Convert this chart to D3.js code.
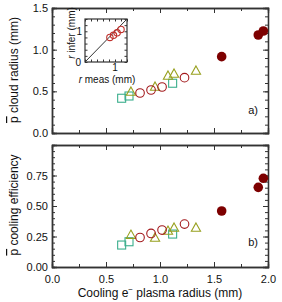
<!DOCTYPE html>
<html lang="en">
<head>
<meta charset="utf-8">
<script src="https://d3js.org/d3.v7.min.js"></script>
<style>
  body { margin: 0; background: #fff; }
  text { font-family: "Liberation Sans", Arial, sans-serif; fill: #111; }
  .ax path, .ax line { stroke: #333; }
</style>
</head>
<body>
<script>
// plasma radius (mm) and results, per data set
const squaresR   = [0.645, 0.713, 1.117];
const squaresCl  = [0.417, 0.444, 0.597];
const squaresEff = [0.18, 0.207, 0.27];

const trianglesR   = [0.731, 0.954, 1.074, 1.13, 1.333];
const trianglesCl  = [0.492, 0.552, 0.684, 0.708, 0.744];
const trianglesEff = [0.262, 0.238, 0.295, 0.32, 0.32];

const circlesR   = [0.815, 0.917, 1.019, 1.227];
const circlesCl  = [0.48, 0.516, 0.552, 0.664];
const circlesEff = [0.242, 0.275, 0.303, 0.352];

const filledR   = [1.571, 1.91, 1.957];
const filledCl  = [0.916, 1.176, 1.224];
const filledEff = [0.459, 0.653, 0.727];

// inset: measured vs inferred radius
const insetMeas  = [0.83, 0.95, 1.07, 1.2];
const insetInfer = [0.8, 0.87, 0.95, 1.06];

const xTickLabels = [0, 0.5, 1.0, 1.5, 2.0];
const topTickLabels = [0, 0.5, 1.0, 1.5];
const botTickLabels = [0, 0.25, 0.5, 0.75];

const TEAL = "#3aae8c", OLIVE = "#97a01e", RED = "#a3191c", MAROON = "#7d0000";

const width = 282, height = 302;
const svg = d3.select("body").append("svg")
    .attr("width", width)
    .attr("height", height);

const x = d3.scaleLinear().domain([0, 2]).range([52, 268]);
const yTop = d3.scaleLinear().domain([0, 1.5]).range([133, 8]);
const yBot = d3.scaleLinear().domain([0, 1]).range([267, 145]);

function frame(y, labels, majorStep, minorStep, digits, showX) {
    const g = svg.append("g").attr("class", "ax");
    const [y0, y1] = y.domain();
    const yMaj = d3.range(y0, y1 + 1e-9, majorStep);
    const yMin = d3.range(y0, y1 + 1e-9, minorStep);
    const xMaj = d3.range(0, 2.0001, 0.5);
    const xMin = d3.range(0, 2.0001, 0.25);
    // left labelled axis
    g.append("g").attr("transform", "translate(52,0)")
        .call(d3.axisLeft(y).tickValues(yMin).tickSize(-3).tickFormat(""));
    g.append("g").attr("transform", "translate(52,0)")
        .call(d3.axisLeft(y).tickValues(yMaj).tickSize(-5).tickFormat(""));
    g.append("g").attr("transform", "translate(52,0)")
        .call(d3.axisLeft(y).tickValues(labels).tickSize(0).tickPadding(4)
            .tickFormat(d => Number(d).toFixed(digits)))
        .call(a => a.selectAll("text").attr("font-size", 11));
    // right
    g.append("g").attr("transform", "translate(268,0)")
        .call(d3.axisRight(y).tickValues(yMin).tickSize(-3).tickFormat(""));
    g.append("g").attr("transform", "translate(268,0)")
        .call(d3.axisRight(y).tickValues(yMaj).tickSize(-5).tickFormat(""));
    // top
    const yt = y.range()[1], yb = y.range()[0];
    g.append("g").attr("transform", `translate(0,${yt})`)
        .call(d3.axisTop(x).tickValues(xMin).tickSize(-3).tickFormat(""));
    g.append("g").attr("transform", `translate(0,${yt})`)
        .call(d3.axisTop(x).tickValues(xMaj).tickSize(-5).tickFormat(""));
    // bottom
    g.append("g").attr("transform", `translate(0,${yb})`)
        .call(d3.axisBottom(x).tickValues(xMin).tickSize(-3).tickFormat(""));
    const bx = g.append("g").attr("transform", `translate(0,${yb})`)
        .call(d3.axisBottom(x).tickValues(showX ? xTickLabels : xMaj).tickSize(-5).tickPadding(8)
            .tickFormat(showX ? (d => Number(d).toFixed(1)) : ""));
    bx.selectAll("text").attr("font-size", 11);
    g.selectAll("path.domain").attr("stroke-width", 1.3);
    g.selectAll(".tick line").attr("stroke-width", 1);
}

frame(yTop, topTickLabels, 0.5, 0.1, 1, false);
frame(yBot, botTickLabels, 0.25, 0.05, 2, true);

function series(y, rs, vs, kind, color) {
    const pts = rs.map((r, i) => [x(r), y(vs[i])]);
    const g = svg.append("g");
    if (kind === "square") {
        g.selectAll("rect").data(pts).join("rect")
            .attr("x", d => d[0] - 4).attr("y", d => d[1] - 4)
            .attr("width", 8).attr("height", 8)
            .attr("fill", "none").attr("stroke", color).attr("stroke-width", 1.1);
    } else if (kind === "triangle") {
        g.selectAll("path").data(pts).join("path")
            .attr("d", d => `M${d[0]},${d[1] - 5}L${d[0] + 4.6},${d[1] + 3.3}L${d[0] - 4.6},${d[1] + 3.3}Z`)
            .attr("fill", "none").attr("stroke", color).attr("stroke-width", 1.1);
    } else if (kind === "open") {
        g.selectAll("circle").data(pts).join("circle")
            .attr("cx", d => d[0]).attr("cy", d => d[1]).attr("r", 4.3)
            .attr("fill", "none").attr("stroke", color).attr("stroke-width", 1.1);
    } else {
        g.selectAll("circle").data(pts).join("circle")
            .attr("cx", d => d[0]).attr("cy", d => d[1]).attr("r", 4.8)
            .attr("fill", color);
    }
}

series(yTop, squaresR, squaresCl, "square", TEAL);
series(yTop, trianglesR, trianglesCl, "triangle", OLIVE);
series(yTop, circlesR, circlesCl, "open", RED);
series(yTop, filledR, filledCl, "filled", MAROON);

series(yBot, squaresR, squaresEff, "square", TEAL);
series(yBot, trianglesR, trianglesEff, "triangle", OLIVE);
series(yBot, circlesR, circlesEff, "open", RED);
series(yBot, filledR, filledEff, "filled", MAROON);

// inset
const ix = d3.scaleLinear().domain([0, 1.4]).range([85, 127]);
const iy = d3.scaleLinear().domain([0, 1.4]).range([62, 19]);
const ins = svg.append("g").attr("class", "ax");
ins.append("rect").attr("x", 85).attr("y", 19).attr("width", 42).attr("height", 43)
    .attr("fill", "#fff").attr("stroke", "#333").attr("stroke-width", 1.2);
const iMin = d3.range(0, 1.41, 0.2);
ins.append("g").attr("transform", "translate(0,62)")
    .call(d3.axisBottom(ix).tickValues(iMin).tickSize(-2.5).tickFormat(""));
ins.append("g").attr("transform", "translate(0,19)")
    .call(d3.axisTop(ix).tickValues(iMin).tickSize(-2.5).tickFormat(""));
ins.append("g").attr("transform", "translate(85,0)")
    .call(d3.axisLeft(iy).tickValues(iMin).tickSize(-2.5).tickFormat(""));
ins.append("g").attr("transform", "translate(127,0)")
    .call(d3.axisRight(iy).tickValues(iMin).tickSize(-2.5).tickFormat(""));
ins.selectAll("path.domain").remove();
ins.append("line").attr("x1", ix(0)).attr("y1", iy(0)).attr("x2", ix(1.4)).attr("y2", iy(1.4))
    .attr("stroke", "#111").attr("stroke-width", 1);
ins.selectAll("circle.ip").data(insetMeas).join("circle").attr("class", "ip")
    .attr("cx", d => ix(d)).attr("cy", (d, i) => iy(insetInfer[i])).attr("r", 3.2)
    .attr("fill", "none").attr("stroke", "#c0302c").attr("stroke-width", 1.1);
ins.append("text").attr("x", ix(1)).attr("y", 71).attr("text-anchor", "middle")
    .attr("font-size", 10).text("1");
ins.append("text").attr("x", 82).attr("y", iy(1) + 3.5).attr("text-anchor", "end")
    .attr("font-size", 10).text("1");
ins.append("text").attr("x", 81).attr("y", 66).attr("text-anchor", "end")
    .attr("font-size", 10).text("0");
const xl = ins.append("text").attr("x", 107).attr("y", 83).attr("text-anchor", "middle")
    .attr("font-size", 10);
xl.append("tspan").attr("font-style", "italic").text("r");
xl.append("tspan").text(" meas (mm)");
const yl = ins.append("text").attr("transform", "translate(75,33) rotate(-90)")
    .attr("text-anchor", "middle").attr("font-size", 10);
yl.append("tspan").attr("font-style", "italic").text("r");
yl.append("tspan").text(" infer (mm)");

// axis labels
function pbarLabel(cx, cy, rest) {
    const t = svg.append("text").attr("transform", `translate(${cx},${cy}) rotate(-90)`)
        .attr("text-anchor", "middle").attr("font-size", 12);
    t.append("tspan").attr("text-decoration", "overline").text("p");
    t.append("tspan").text(rest);
}
pbarLabel(18, 70, " cloud radius (mm)");
pbarLabel(18, 205, " cooling efficiency");

const xlab = svg.append("text").attr("x", 160).attr("y", 297)
    .attr("text-anchor", "middle").attr("font-size", 12);
xlab.append("tspan").text("Cooling e");
xlab.append("tspan").attr("dy", -5).attr("font-size", 8).text("\u2212");
xlab.append("tspan").attr("dy", 5).text(" plasma radius (mm)");

svg.append("text").attr("x", 258).attr("y", 114).attr("text-anchor", "end")
    .attr("font-size", 11).text("a)");
svg.append("text").attr("x", 258).attr("y", 246).attr("text-anchor", "end")
    .attr("font-size", 11).text("b)");
</script>
</body>
</html>
